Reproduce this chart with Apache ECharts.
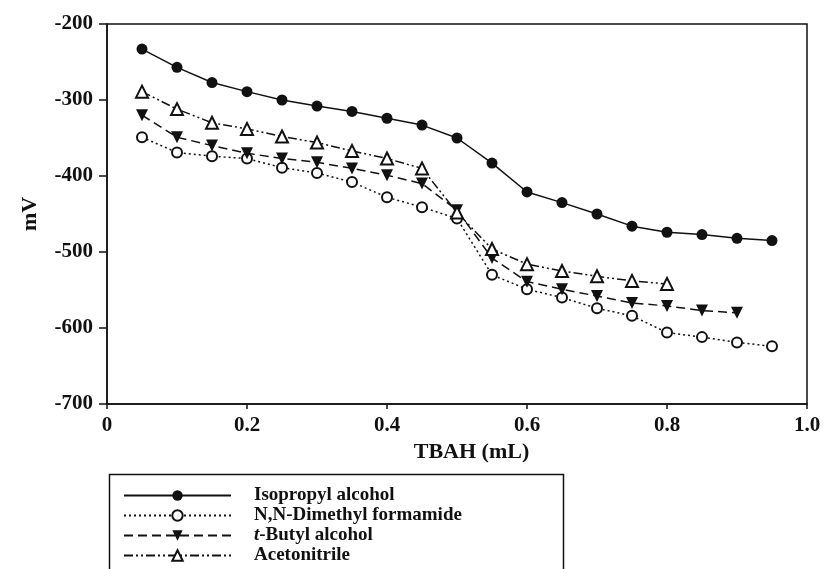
<!DOCTYPE html>
<html>
<head>
<meta charset="utf-8">
<script src="https://cdn.jsdelivr.net/npm/echarts@6/dist/echarts.min.js"></script>
<style>html,body{margin:0;padding:0;background:#fff}#c{width:827px;height:569px}</style>
</head>
<body>
<div id="c"></div>
<script>
const seriesNames = ['Isopropyl alcohol', 'N,N-Dimethyl formamide', 't-Butyl alcohol', 'Acetonitrile'];
const xIso = [0.05,0.10,0.15,0.20,0.25,0.30,0.35,0.40,0.45,0.50,0.55,0.60,0.65,0.70,0.75,0.80,0.85,0.90,0.95];
const isopropyl = [-233,-257,-277,-289,-300,-308,-315,-324,-333,-350,-383,-421,-435,-450,-466,-474,-477,-482,-485];
const xDmf = [0.05,0.10,0.15,0.20,0.25,0.30,0.35,0.40,0.45,0.50,0.55,0.60,0.65,0.70,0.75,0.80,0.85,0.90,0.95];
const dmf = [-349,-369,-374,-377,-389,-396,-408,-428,-441,-456,-530,-549,-560,-574,-584,-606,-612,-619,-624];
const xBut = [0.05,0.10,0.15,0.20,0.25,0.30,0.35,0.40,0.45,0.50,0.55,0.60,0.65,0.70,0.75,0.80,0.85,0.90];
const butyl = [-320,-349,-360,-370,-377,-382,-390,-399,-410,-445,-508,-539,-549,-558,-567,-571,-577,-580];
const xAce = [0.05,0.10,0.15,0.20,0.25,0.30,0.35,0.40,0.45,0.50,0.55,0.60,0.65,0.70,0.75,0.80];
const acetonitrile = [-289,-312,-330,-338,-348,-356,-367,-377,-390,-448,-496,-516,-525,-532,-538,-542];
const xTicks = [0, 0.2, 0.4, 0.6, 0.8, 1.0];
const yTicks = [-700, -600, -500, -400, -300, -200];

const pair = (xs, ys) => xs.map((x, i) => [x, ys[i]]);
const FONT = 'Liberation Serif';
const chart = echarts.init(document.getElementById('c'), null, {renderer: 'canvas'});
chart.setOption({
  animation: false,
  backgroundColor: '#fff',
  grid: {left: 107, right: 20, top: 24, bottom: 165, show: true, borderColor: '#111', borderWidth: 1.5, backgroundColor: 'transparent'},
  xAxis: {
    type: 'value', min: xTicks[0], max: xTicks[xTicks.length - 1], interval: 0.2,
    name: 'TBAH (mL)', nameLocation: 'middle', nameGap: 36,
    nameTextStyle: {fontFamily: FONT, fontWeight: 'bold', fontSize: 22, color: '#111', padding: [0, 0, 0, 29]},
    axisLine: {lineStyle: {color: '#111', width: 1.5}},
    axisTick: {show: true, length: 5, inside: false, lineStyle: {color: '#111', width: 1.5}},
    axisLabel: {fontFamily: FONT, fontWeight: 'bold', fontSize: 21, color: '#111', margin: 11,
      formatter: v => (v === 0 ? '0' : v.toFixed(1))},
    splitLine: {show: false}
  },
  yAxis: {
    type: 'value', min: yTicks[0], max: yTicks[yTicks.length - 1], interval: 100,
    name: 'mV', nameLocation: 'middle', nameGap: 66, nameRotate: 90,
    nameTextStyle: {fontFamily: FONT, fontWeight: 'bold', fontSize: 22, color: '#111'},
    axisLine: {lineStyle: {color: '#111', width: 1.5}},
    axisTick: {show: true, length: 8, inside: false, lineStyle: {color: '#111', width: 1.5}},
    axisLabel: {fontFamily: FONT, fontWeight: 'bold', fontSize: 21, color: '#111', margin: 14},
    splitLine: {show: false}
  },
  legend: {
    type: 'plain', orient: 'vertical', left: 118, top: 481, height: 200,
    itemWidth: 107, itemHeight: 13, itemGap: 1,
    data: seriesNames,
    textStyle: {fontFamily: FONT, fontWeight: 'bold', fontSize: 19, color: '#111', lineHeight: 16, padding: [0, 0, 0, 18],
      rich: {i: {fontFamily: FONT, fontWeight: 'bold', fontStyle: 'italic', fontSize: 19, color: '#111'}}},
    formatter: name => name === 't-Butyl alcohol' ? '{i|t}-Butyl alcohol' : name
  },
  graphic: [{
    type: 'rect', left: 107, top: 472, shape: {width: 454, height: 200},
    style: {fill: 'none', stroke: '#111', lineWidth: 1.5}, silent: true
  }],
  series: [
    {name: seriesNames[0], type: 'line', data: pair(xIso, isopropyl), symbol: 'circle', symbolSize: 11,
      itemStyle: {color: '#111'}, lineStyle: {color: '#111', width: 1.5, type: 'solid'}},
    {name: seriesNames[1], type: 'line', data: pair(xDmf, dmf), symbol: 'emptyCircle', symbolSize: 10,
      itemStyle: {color: '#111', borderWidth: 1.8}, lineStyle: {color: '#111', width: 1.5, type: [2, 3]}},
    {name: seriesNames[2], type: 'line', data: pair(xBut, butyl), symbol: 'triangle', symbolRotate: 180, symbolSize: 12,
      itemStyle: {color: '#111'}, lineStyle: {color: '#111', width: 1.5, type: [9, 5]}},
    {name: seriesNames[3], type: 'line', data: pair(xAce, acetonitrile), symbol: 'emptyTriangle', symbolSize: 12,
      itemStyle: {color: '#111', borderWidth: 1.8}, lineStyle: {color: '#111', width: 1.5, type: [9, 3, 2, 3, 2, 3]}}
  ]
});
</script>
</body>
</html>
